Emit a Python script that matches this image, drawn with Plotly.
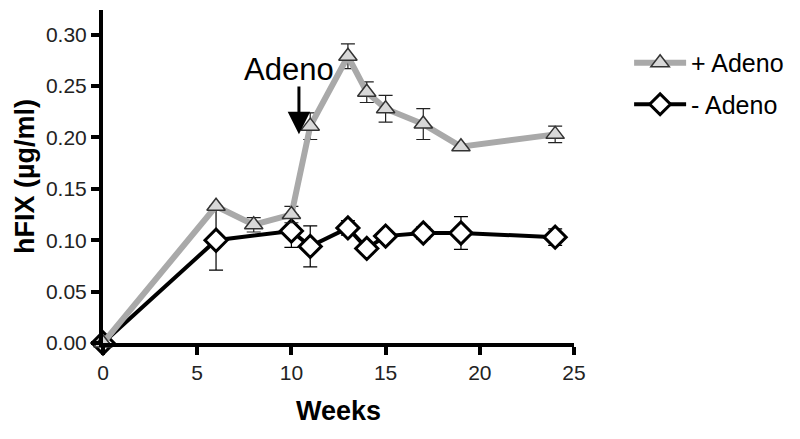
import plotly.graph_objects as go

weeks_plus = [0, 6, 8, 10, 11, 13, 14, 15, 17, 19, 24]
hfix_plus = [0.0, 0.133, 0.115, 0.125, 0.211, 0.279, 0.244, 0.228, 0.213, 0.191, 0.203]
err_plus = [0.0, 0.0, 0.007, 0.008, 0.013, 0.012, 0.010, 0.013, 0.015, 0.003, 0.008]

weeks_minus = [0, 6, 10, 11, 13, 14, 15, 17, 19, 24]
hfix_minus = [0.0, 0.100, 0.109, 0.094, 0.112, 0.092, 0.104, 0.107, 0.107, 0.103]
err_minus = [0.0, 0.029, 0.016, 0.020, 0.007, 0.005, 0.004, 0.006, 0.016, 0.008]

y_ticks = [0.0, 0.05, 0.10, 0.15, 0.20, 0.25, 0.30]
y_tick_labels = ["0.00", "0.05", "0.10", "0.15", "0.20", "0.25", "0.30"]
x_ticks = [0, 5, 10, 15, 20, 25]

FONT = "Liberation Sans, Arial, sans-serif"

fig = go.Figure()

fig.add_trace(go.Scatter(
    x=weeks_minus, y=hfix_minus, name="- Adeno", legendgroup="minus", legendrank=2,
    mode="lines+markers",
    line=dict(color="black", width=4),
    marker=dict(symbol="diamond", size=17, color="white", line=dict(color="black", width=3)),
    error_y=dict(type="data", array=err_minus, color="black", thickness=1.2, width=7),
    cliponaxis=False,
))
fig.add_trace(go.Scatter(
    x=weeks_plus, y=hfix_plus, name="+ Adeno", legendgroup="plus", legendrank=1,
    mode="lines+markers",
    line=dict(color="#a9a9a9", width=6),
    marker=dict(symbol="triangle-up", size=16, color="#d8d8d8", line=dict(color="#333333", width=1.5)),
    error_y=dict(type="data", array=err_plus, color="#222222", thickness=1.2, width=7),
    cliponaxis=False,
))

fig.add_annotation(x=9.85, y=0.266, text="Adeno", showarrow=False,
                   font=dict(family=FONT, size=31, color="black"))
fig.add_annotation(x=10.4, y=0.203, ax=10.4, ay=0.251, axref="x", ayref="y",
                   xref="x", yref="y", text="", showarrow=True,
                   arrowhead=2, arrowsize=1.5, arrowwidth=3, arrowcolor="black")

fig.update_layout(
    width=800, height=439,
    margin=dict(l=95, r=234, t=2, b=104),
    paper_bgcolor="white", plot_bgcolor="white",
    font=dict(family=FONT, color="#222222"),
    showlegend=True,
    legend=dict(x=1.117, y=0.91, xanchor="left", yanchor="top",
                traceorder="grouped", font=dict(family=FONT, size=25, color="black"),
                itemwidth=52, tracegroupgap=6),
    xaxis=dict(range=[0, 25], tickvals=x_ticks, showgrid=False, zeroline=False,
               showline=True, linecolor="black", linewidth=4,
               ticks="outside", ticklen=8, tickwidth=4, tickcolor="black",
               tickfont=dict(family=FONT, size=21, color="#222222"),
               title=dict(text="<b>Weeks</b>", font=dict(family=FONT, size=27, color="black"), standoff=19)),
    yaxis=dict(range=[0, 0.324], tickvals=y_ticks, ticktext=y_tick_labels, showgrid=False, zeroline=False,
               showline=True, linecolor="black", linewidth=4,
               ticks="outside", ticklen=8, tickwidth=4, tickcolor="black",
               tickfont=dict(family=FONT, size=21, color="#222222"),
               title=dict(text="<b>hFIX (µg/ml)</b>", font=dict(family=FONT, size=27, color="black"), standoff=4)),
)

fig.write_html("out.html")
